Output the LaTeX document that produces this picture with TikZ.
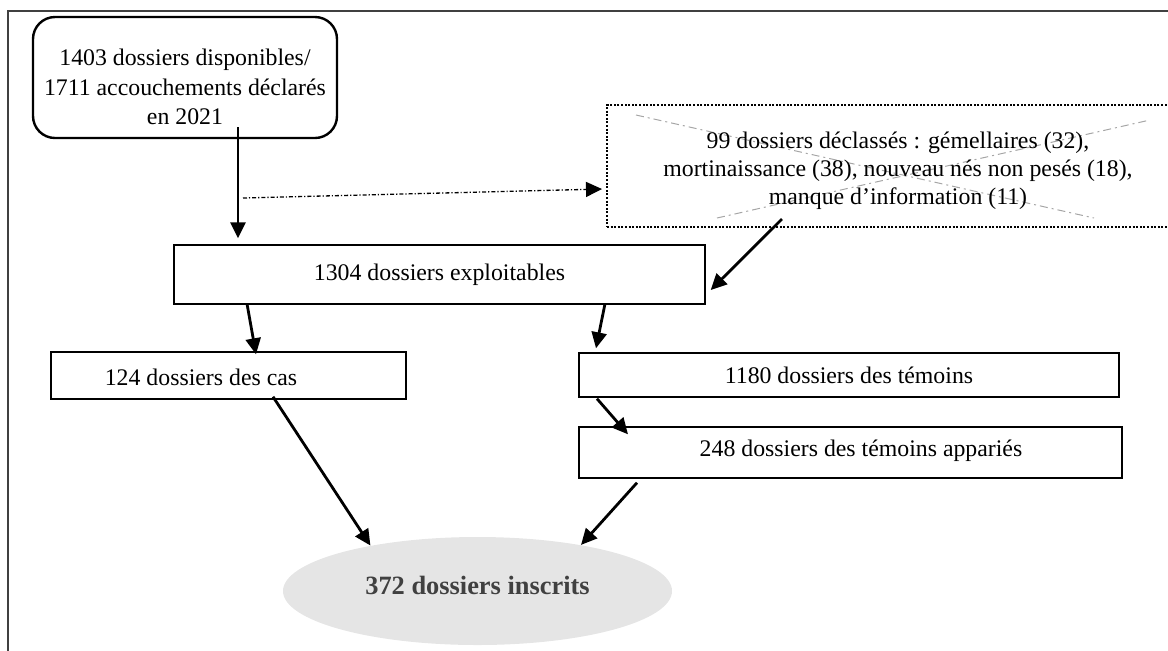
\documentclass[tikz,border=0pt]{standalone}
\usepackage{fontspec}
\setmainfont{Liberation Serif}
\usetikzlibrary{arrows.meta,positioning,shapes.geometric}

\begin{document}
\begin{tikzpicture}[x=0.5pt,y=-0.5pt,font=\fontsize{11.9}{14.6}\selectfont,
  box/.style={draw,line width=0.7pt,inner sep=0pt},
  txt/.style={align=center,inner sep=0pt},
  arr/.style={line width=1.4pt,-{Triangle[length=8pt,width=7.5pt]}},
  dotarr/.style={line width=0.65pt,dash pattern=on 2pt off 1pt on 0.6pt off 1pt,-{Triangle[length=8pt,width=7.5pt]}},
  cross/.style={black!35,line width=0.5pt,dash pattern=on 4pt off 2pt on 1pt off 2pt}]
\useasboundingbox (0,0) rectangle (1168,650);
% outer frame
\draw[black!75,line width=0.8pt] (8,660) -- (8,11) -- (1180,11);
% boxes
\node[box,line width=1.2pt,rounded corners=11pt,minimum width=152pt,minimum height=60.5pt] (start) at (185,77.5) {};
\node[txt] (starttxt) at (185,87) {1403 dossiers disponibles/\\1711 accouchements déclarés\\en 2021};
\node[box,line width=1pt,dash pattern=on 1pt off 0.8pt,minimum width=284pt,minimum height=61pt] (excl) at (891,166) {};
\draw[cross] (636,115) -- (1094,218);
\draw[cross] (717,218) -- (1150,120);
\node[txt,font=\fontsize{11.9}{14}\selectfont] (excltxt) at (898,171) {99 dossiers déclassés : gémellaires (32),\\mortinaissance (38), nouveau nés non pesés (18),\\manque d’information (11)};
\node[box,minimum width=265.5pt,minimum height=29.5pt] (exploit) at (439.5,274.5) {1304 dossiers exploitables};
\node[box,minimum width=177.5pt,minimum height=23.5pt] (cas) at (228.5,375.5) {};
\node[txt] (castxt) at (201,377) {124 dossiers des cas};
\node[box,minimum width=270pt,minimum height=22pt] (temoins) at (849,375) {1180 dossiers des témoins};
\node[box,minimum width=271.5pt,minimum height=25.5pt] (apparies) at (850.5,452.5) {};
\node[txt] (appariestxt) at (861,451) {248 dossiers des témoins appariés};
\node[ellipse,fill=black!10,inner sep=0pt,minimum width=194.5pt,minimum height=54pt,text depth=6pt,
  text=black!75,font=\fontsize{13.2}{16}\selectfont\bfseries] (inscrits) at (477.5,591) {372 dossiers inscrits};
% arrows
\coordinate (split) at (243,198);
\draw[arr] ([xshift=26.5pt,yshift=6pt]start.south) -- ([xshift=-100.75pt,yshift=3pt]exploit.north);
\draw[dotarr] (split) -- ([xshift=-2pt,yshift=-11.5pt]excl.west);
\draw[arr] ([xshift=-54.5pt,yshift=4.5pt]excl.south) -- ([xshift=2.5pt,yshift=-7.75pt]exploit.east);
\draw[arr] ([xshift=-96.25pt,yshift=0.5pt]exploit.south) -- ([xshift=13.75pt,yshift=-1.5pt]cas.north);
\draw[arr] ([xshift=82.75pt,yshift=0.5pt]exploit.south) -- ([xshift=-126.5pt,yshift=2pt]temoins.north);
\draw[arr] ([xshift=-126pt,yshift=-0.5pt]temoins.south) -- ([xshift=-111.25pt,yshift=-4pt]apparies.north);
\draw[arr] ([xshift=22.25pt,yshift=1.5pt]cas.south) -- (inscrits.157);
\draw[arr] ([xshift=-106.75pt,yshift=-2pt]apparies.south) -- (inscrits.24);
\end{tikzpicture}
\end{document}
